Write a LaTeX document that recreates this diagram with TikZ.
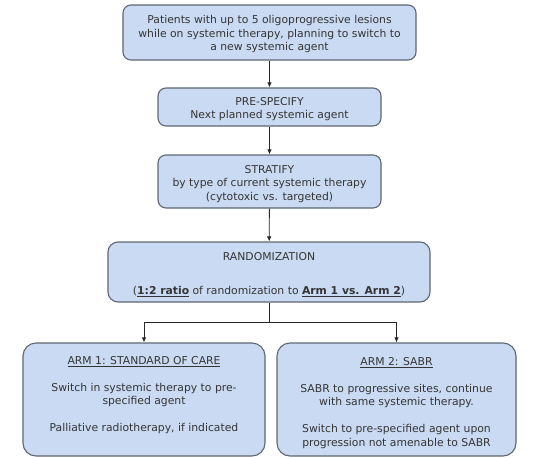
\documentclass[tikz,border=0pt]{standalone}
\usepackage{fontspec}
\setmainfont{DejaVu Sans}
\usetikzlibrary{arrows.meta}

\definecolor{boxfill}{HTML}{C9DAF2}
\definecolor{boxline}{HTML}{5F6874}
\definecolor{boxtext}{HTML}{353535}

% extra room above the first line of a box
\newcommand{\toplift}[1]{\rule{0pt}{#1}}

\tikzset{
  stage/.style={draw=boxline, fill=boxfill, line width=1.1pt, rounded corners=8pt,
    align=center, text=boxtext, inner sep=0pt,
    font=\fontsize{10.8}{13.5}\selectfont},
  arm/.style={stage, rounded corners=13pt, minimum width=#1, minimum height=113pt},
  link/.style={-{Latex[length=5pt,width=4.5pt]}, line width=0.9pt, draw=black!85}
}

\begin{document}
\begin{tikzpicture}[x=1pt,y=-1pt]
  \fill[white] (0,0) rectangle (533,458);
  \useasboundingbox (0,0) rectangle (533,458);

  % Eligibility
  \node[stage, minimum width=293pt, minimum height=55pt] (pat) at (269.5,32.5)
    {\toplift{12pt}Patients with up to 5 oligoprogressive lesions\\
     while on systemic therapy, planning to switch to\\
     a new systemic agent};

  % Pre-specify
  \node[stage, minimum width=223pt, minimum height=38pt] (pre) at (269.5,107)
    {\toplift{12pt}PRE-SPECIFY\\ Next planned systemic agent};
  \draw[link] (pat) -- (pre);

  % Stratify
  \node[stage, minimum width=223pt, minimum height=53pt] (strat) at (269.5,181.5)
    {\toplift{13pt}STRATIFY\\ by type of current systemic therapy\\ (cytotoxic vs. targeted)};
  \draw[link] (pre) -- (strat);

  % Randomization
  \node[stage, rounded corners=10pt, minimum width=322pt, minimum height=60pt] (rand) at (269,272)
    {\toplift{13pt}RANDOMIZATION\\[21pt]
     (\underline{\textbf{1:2 ratio}} of randomization to \underline{\textbf{Arm 1 vs. Arm 2}})};
  \draw[link] (strat) -- (rand);

  % The two arms
  \node[arm=242pt] (arm1) at (144,399.5)
    {\toplift{15pt}\underline{ARM 1: STANDARD OF CARE}\\[13.5pt]
     Switch in systemic therapy to pre-\\ specified agent\\[13.5pt]
     Palliative radiotherapy, if indicated\\ \strut};
  \node[arm=239pt] (arm2) at (396.5,399.5)
    {\toplift{15pt}\underline{ARM 2: SABR}\\[13.5pt]
     SABR to progressive sites, continue\\ with same systemic therapy.\\[13.5pt]
     Switch to pre-specified agent upon\\ progression not amenable to SABR};

  \coordinate (split) at (269,322);
  \draw[line width=0.9pt, draw=black!85] (rand.south) -- (split);
  \draw[link] (split) -| (arm1.north);
  \draw[link] (split) -| (arm2.north);
\end{tikzpicture}
\end{document}
